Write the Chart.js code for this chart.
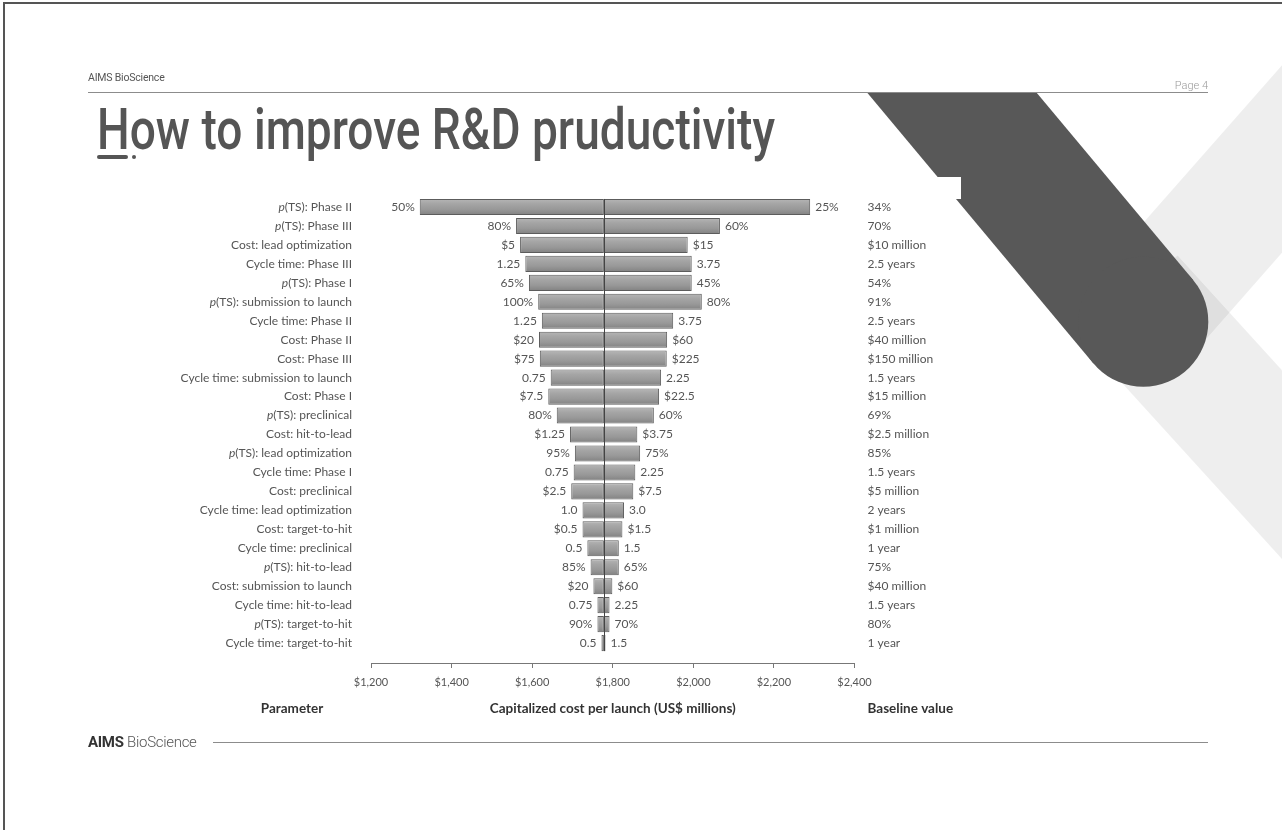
<!DOCTYPE html>
<html>
<head>
<meta charset="utf-8">
<title>How to improve R&amp;D pruductivity</title>
<script src="https://cdn.jsdelivr.net/npm/chart.js@4.4.1/dist/chart.umd.min.js"></script>
<style>
  html, body { margin: 0; padding: 0; background: #fff; }
  #slide { position: relative; width: 1282px; height: 830px; overflow: hidden; font-family: Roboto, sans-serif; }
  #deco, #tornado { position: absolute; left: 0; top: 0; }
  .frame { position: absolute; left: 3px; top: 2px; width: 1290px; height: 840px; border-top: 2px solid #555; border-left: 2px solid #555; }
  .brand-top { position: absolute; left: 88px; top: 71px; font-size: 10.5px; color: #555; letter-spacing: -0.2px; }
  .page-no { position: absolute; right: 74px; top: 79px; font-size: 11px; font-weight: 300; color: #9a9a9a; }
  .rule-top { position: absolute; left: 88px; top: 92px; width: 1120px; height: 0; border-top: 1.5px solid #8c8c8c; }
  .title { position: absolute; left: 97px; top: 100px; font-size: 58px; line-height: 1; font-weight: 500; color: #555; white-space: nowrap; transform-origin: 0 0; }
  .title-mark { position: absolute; left: 97px; top: 155px; width: 31px; height: 4px; border-radius: 2px; background: #555; }
  .title-dot { position: absolute; left: 132px; top: 155px; width: 4px; height: 4px; border-radius: 2px; background: #555; }
  .brand-foot { position: absolute; left: 88px; top: 733px; font-size: 15px; color: #555; letter-spacing: -0.3px; }
  .brand-foot b { font-weight: 700; color: #333; }
  .brand-foot span { font-weight: 300; }
  .rule-foot { position: absolute; left: 213px; top: 742px; width: 995px; height: 0; border-top: 1.5px solid #8c8c8c; }
</style>
</head>
<body>
<div id="slide">
  <canvas id="deco" width="1282" height="830"></canvas>
  <div class="frame"></div>
  <div class="brand-top">AIMS BioScience</div>
  <div class="page-no">Page 4</div>
  <div class="rule-top"></div>
  <div class="title" id="title">How to improve R&amp;D pruductivity</div>
  <div class="title-mark"></div>
  <div class="title-dot"></div>
  <canvas id="tornado" width="1282" height="830"></canvas>
  <div class="brand-foot"><b>AIMS</b> <span>BioScience</span></div>
  <div class="rule-foot"></div>
</div>

<script>
// parameters, top (widest swing) to bottom
const parameters = [
  'p(TS): Phase II', 'p(TS): Phase III', 'Cost: lead optimization', 'Cycle time: Phase III',
  'p(TS): Phase I', 'p(TS): submission to launch', 'Cycle time: Phase II', 'Cost: Phase II',
  'Cost: Phase III', 'Cycle time: submission to launch', 'Cost: Phase I', 'p(TS): preclinical',
  'Cost: hit-to-lead', 'p(TS): lead optimization', 'Cycle time: Phase I', 'Cost: preclinical',
  'Cycle time: lead optimization', 'Cost: target-to-hit', 'Cycle time: preclinical', 'p(TS): hit-to-lead',
  'Cost: submission to launch', 'Cycle time: hit-to-lead', 'p(TS): target-to-hit', 'Cycle time: target-to-hit'
];

// capitalized cost per launch (US$ millions) at each end of the range
const baselineCost = 1778;
const lowCost  = [1321, 1560, 1570, 1583, 1592, 1615, 1624, 1617, 1619, 1646, 1640, 1661,
                  1694, 1706, 1703, 1697, 1725, 1725, 1737, 1745, 1752, 1762, 1762, 1772];
const highCost = [2290, 2066, 1986, 1996, 1996, 2021, 1950, 1935, 1934, 1920, 1915, 1902,
                  1861, 1868, 1856, 1851, 1828, 1824, 1815, 1815, 1799, 1792, 1792, 1782];

// parameter values at each end of the bar, and the baseline value
const lowLabels  = ['50%', '80%', '$5', '1.25', '65%', '100%', '1.25', '$20', '$75', '0.75', '$7.5', '80%',
                    '$1.25', '95%', '0.75', '$2.5', '1.0', '$0.5', '0.5', '85%', '$20', '0.75', '90%', '0.5'];
const highLabels = ['25%', '60%', '$15', '3.75', '45%', '80%', '3.75', '$60', '$225', '2.25', '$22.5', '60%',
                    '$3.75', '75%', '2.25', '$7.5', '3.0', '$1.5', '1.5', '65%', '$60', '2.25', '70%', '1.5'];
const baselineValues = ['34%', '70%', '$10 million', '2.5 years', '54%', '91%', '2.5 years', '$40 million',
                        '$150 million', '1.5 years', '$15 million', '69%', '$2.5 million', '85%', '1.5 years', '$5 million',
                        '2 years', '$1 million', '1 year', '75%', '$40 million', '1.5 years', '80%', '1 year'];

const axisMin = 1200, axisMax = 2400, axisStep = 200;

// squeeze the title to the slide's condensed look
(function () {
  const t = document.getElementById('title');
  t.style.transform = 'scaleX(' + (678 / t.getBoundingClientRect().width) + ')';
})();

// background shapes of the slide
(function () {
  const d = document.getElementById('deco').getContext('2d');
  function band(x0, y0, ux, uy, len, w, color) {
    d.beginPath();
    d.moveTo(x0, y0);
    d.lineTo(x0 + ux * len, y0 + uy * len);
    d.lineWidth = w;
    d.lineCap = 'butt';
    d.strokeStyle = color;
    d.stroke();
  }
  // pale chevron on the right edge
  band(1282 + 0.66 * 80, 159 - 0.75 * 80, -0.66, 0.75, 295, 124, 'rgba(0,0,0,0.065)');
  band(1282 + 0.673 * 120, 464.6 + 0.74 * 120, -0.673, -0.74, 345, 127, 'rgba(0,0,0,0.065)');

  // dark diagonal bar with a rounded end
  d.save();
  d.beginPath();
  d.rect(0, 93, 1282, 737);
  d.clip();
  const cx = 1143.3, cy = 321.7, r = 65, ux = 0.641, uy = 0.767;
  band(cx - 400 * ux, cy - 400 * uy, ux, uy, 400, r * 2, '#585858');
  d.beginPath();
  d.arc(cx, cy, r, 0, Math.PI * 2);
  d.fillStyle = '#585858';
  d.fill();
  d.restore();
  d.fillStyle = '#fff';
  d.fillRect(925, 177, 36, 22);
})();

Chart.defaults.font.family = 'Lato, "Open Sans", sans-serif';
Chart.defaults.color = '#555';

function barFill(c) {
  const chart = c.chart;
  const y = chart.scales && chart.scales.y;
  const mid = (c.type === 'data' && y) ? y.getPixelForValue(c.dataIndex) : NaN;
  if (!isFinite(mid)) return '#a0a0a0';
  const g = chart.ctx.createLinearGradient(0, mid - 8, 0, mid + 8);
  g.addColorStop(0, '#b6b6b6');
  g.addColorStop(0.3, '#a5a5a5');
  g.addColorStop(0.65, '#989898');
  g.addColorStop(1, '#828282');
  return g;
}

// row labels, end values, baseline column and the centre line
const tornadoLabels = {
  id: 'tornadoLabels',
  afterDatasetsDraw(chart) {
    const { ctx, chartArea, scales: { x, y } } = chart;
    const bx = Math.round(x.getPixelForValue(baselineCost)) + 0.5;
    ctx.save();
    ctx.strokeStyle = '#444';
    ctx.lineWidth = 1;
    ctx.beginPath();
    ctx.moveTo(bx, y.getPixelForValue(0) - 8);
    ctx.lineTo(bx, y.getPixelForValue(parameters.length - 1) + 8);
    ctx.stroke();

    ctx.textBaseline = 'middle';
    ctx.fillStyle = '#555';
    const normal = '12px Lato, "Open Sans", sans-serif';
    const italic = 'italic 12px Lato, "Open Sans", sans-serif';
    parameters.forEach((name, i) => {
      const yy = y.getPixelForValue(i);
      const right = chartArea.left - 19;
      ctx.font = normal;
      if (name.startsWith('p(')) {
        const rest = name.slice(1);
        const wr = ctx.measureText(rest).width;
        ctx.font = italic;
        const wp = ctx.measureText('p').width;
        ctx.textAlign = 'left';
        ctx.fillText('p', right - wr - wp, yy);
        ctx.font = normal;
        ctx.fillText(rest, right - wr, yy);
      } else {
        ctx.textAlign = 'right';
        ctx.fillText(name, right, yy);
      }
      ctx.textAlign = 'right';
      ctx.fillText(lowLabels[i], x.getPixelForValue(lowCost[i]) - 5, yy);
      ctx.textAlign = 'left';
      ctx.fillText(highLabels[i], x.getPixelForValue(highCost[i]) + 5, yy);
      ctx.fillText(baselineValues[i], chartArea.right + 13, yy);
    });

    ctx.font = 'bold 13.5px Lato, "Open Sans", sans-serif';
    ctx.fillStyle = '#333';
    ctx.textAlign = 'center';
    ctx.fillText('Parameter', chartArea.left - 79, 709);
    ctx.textAlign = 'left';
    ctx.fillText('Baseline value', chartArea.right + 13, 709);
    ctx.restore();
  }
};

const barStyle = {
  backgroundColor: barFill,
  borderColor: '#5c5c5c',
  borderWidth: 1,
  borderSkipped: false
};

new Chart(document.getElementById('tornado'), {
  type: 'bar',
  data: {
    datasets: [
      Object.assign({ label: 'Low', data: lowCost.map((v, i) => ({ x: [v, baselineCost], y: i })) }, barStyle),
      Object.assign({ label: 'High', data: highCost.map((v, i) => ({ x: [baselineCost, v], y: i })) }, barStyle)
    ]
  },
  options: {
    indexAxis: 'y',
    responsive: false,
    animation: false,
    layout: { padding: { left: 371, right: 427.5, top: 197.5, bottom: 111 } },
    datasets: {
      bar: { grouped: false, barPercentage: 0.85, categoryPercentage: 1 }
    },
    plugins: { legend: { display: false }, tooltip: { enabled: false }, colors: { enabled: false } },
    scales: {
      x: {
        type: 'linear',
        position: 'bottom',
        min: axisMin,
        max: axisMax,
        ticks: {
          stepSize: axisStep,
          color: '#555',
          font: { size: 11 },
          padding: 8,
          callback: v => '$' + v.toLocaleString('en-US')
        },
        grid: { display: true, drawOnChartArea: false, drawTicks: true, tickLength: 5, color: '#777' },
        border: { display: true, color: '#777', width: 1 },
        title: {
          display: true,
          text: 'Capitalized cost per launch (US$ millions)',
          color: '#333',
          font: { size: 13.5, weight: 'bold' },
          padding: { top: 10, bottom: 2 }
        },
        afterFit: s => { s.height = 56; }
      },
      y: {
        type: 'linear',
        reverse: true,
        offset: false,
        grid: { offset: false },
        min: -0.5,
        max: 24.05,
        display: false
      }
    }
  },
  plugins: [tornadoLabels]
});
</script>
</body>
</html>
